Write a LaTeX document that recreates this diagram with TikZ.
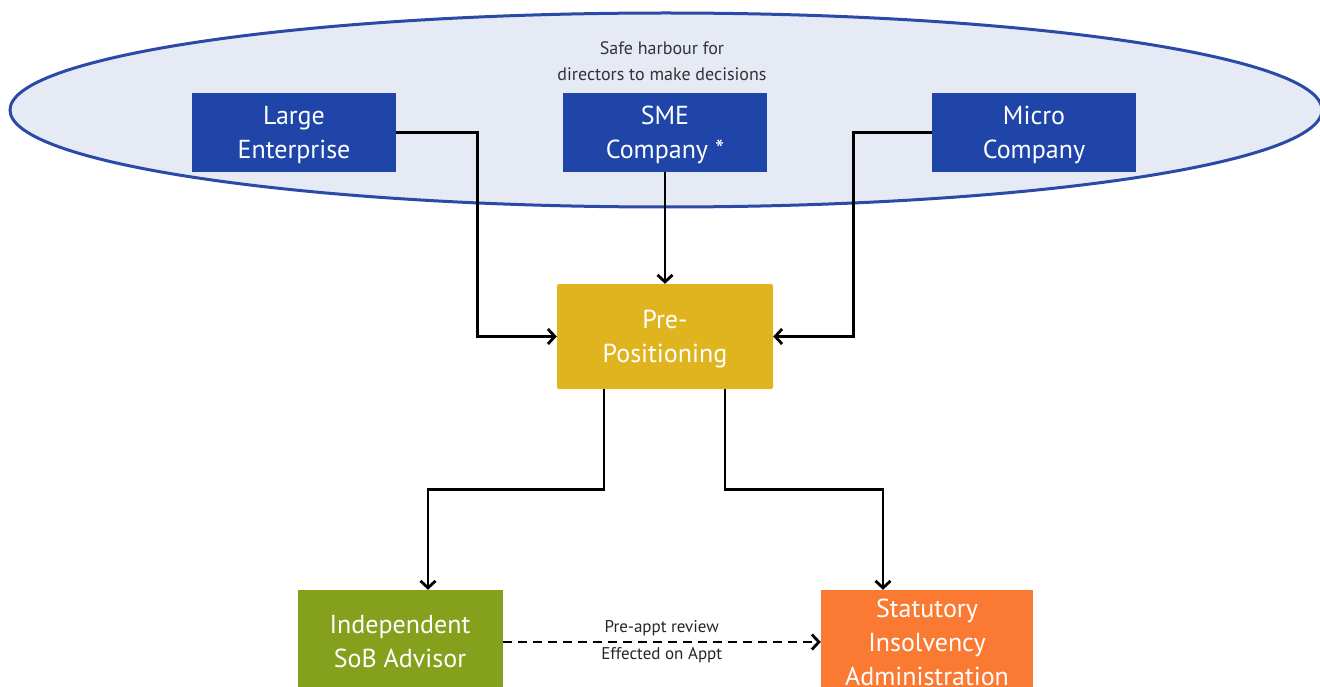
\documentclass[tikz,border=0pt]{standalone}
\usepackage{fontspec}
\setmainfont{PT Sans}
\usetikzlibrary{positioning,shapes.geometric,arrows.meta}

\definecolor{harbourline}{HTML}{2B4AA8}
\definecolor{harbourfill}{HTML}{E5EAF5}
\definecolor{companyblue}{HTML}{1F45A8}
\definecolor{preposgold}{HTML}{E0B41E}
\definecolor{advisorgreen}{HTML}{85A01C}
\definecolor{adminorange}{HTML}{FA7A33}

\begin{document}
\begin{tikzpicture}[x=1pt,y=-1pt,on grid,
    >={Straight Barb[length=7pt,width=15pt]},
    company/.style={fill=companyblue,text=white,align=center,text depth=0pt,minimum width=204pt,minimum height=79pt,font=\fontsize{26}{34}\selectfont},
    prepos/.style={fill=preposgold,text=white,align=center,text depth=0pt,rounded corners=2pt,minimum width=216pt,minimum height=105pt,font=\fontsize{26}{34}\selectfont},
    outcome/.style={text=white,align=center,minimum height=104pt,font=\fontsize{26}{34}\selectfont},
    flow/.style={->,line width=2.8pt,black}]
    \useasboundingbox (0,0) rectangle (1320,687);
    \clip (0,0) rectangle (1320,687);
    \node[ellipse,draw=harbourline,fill=harbourfill,line width=3pt,inner sep=0pt,minimum width=1312pt,minimum height=194pt] (harbour) at (666,110) {};
    \node[align=center,text=black!80,font=\fontsize{18}{26}\selectfont] (harbourtxt) at (662,61) {Safe harbour for\\directors to make decisions};
    \node[company] (sme) at (665,132.5) {SME\\Company *};
    \node[company] (large) [left=371pt of sme] {Large\\Enterprise};
    \node[company] (micro) [right=369pt of sme] {Micro\\Company};
    \node[prepos] (pre) [below=204pt of sme] {Pre-\\Positioning};
    \node[outcome,fill=advisorgreen,minimum width=205pt] (sob) at (400,642) {Independent\\SoB Advisor};
    \node[outcome,fill=adminorange,minimum width=212pt] (sia) at (927,642) {Statutory\\Insolvency\\Administration};
    \draw[flow] (large.east) -| ([xshift=-79pt]pre.west) -- (pre.west);
    \draw[flow] (micro.west) -| ([xshift=80pt]pre.east) -- (pre.east);
    \draw[flow] (sme.south) -- (pre.north);
    \draw[flow] ([xshift=-61pt]pre.south) -- ++(0,100) -| ([xshift=28pt]sob.north);
    \draw[flow] ([xshift=60pt]pre.south) -- ++(0,100) -| ([xshift=-44pt]sia.north);
    \draw[flow,dashed,dash pattern=on 9pt off 6pt] (sob.east) -- (sia.west)
        node[midway,above=1pt,font=\fontsize{17}{24}\selectfont,text=black!85] {Pre-appt review}
        node[midway,below=1pt,font=\fontsize{17}{24}\selectfont,text=black!85] {Effected on Appt};
\end{tikzpicture}
\end{document}
